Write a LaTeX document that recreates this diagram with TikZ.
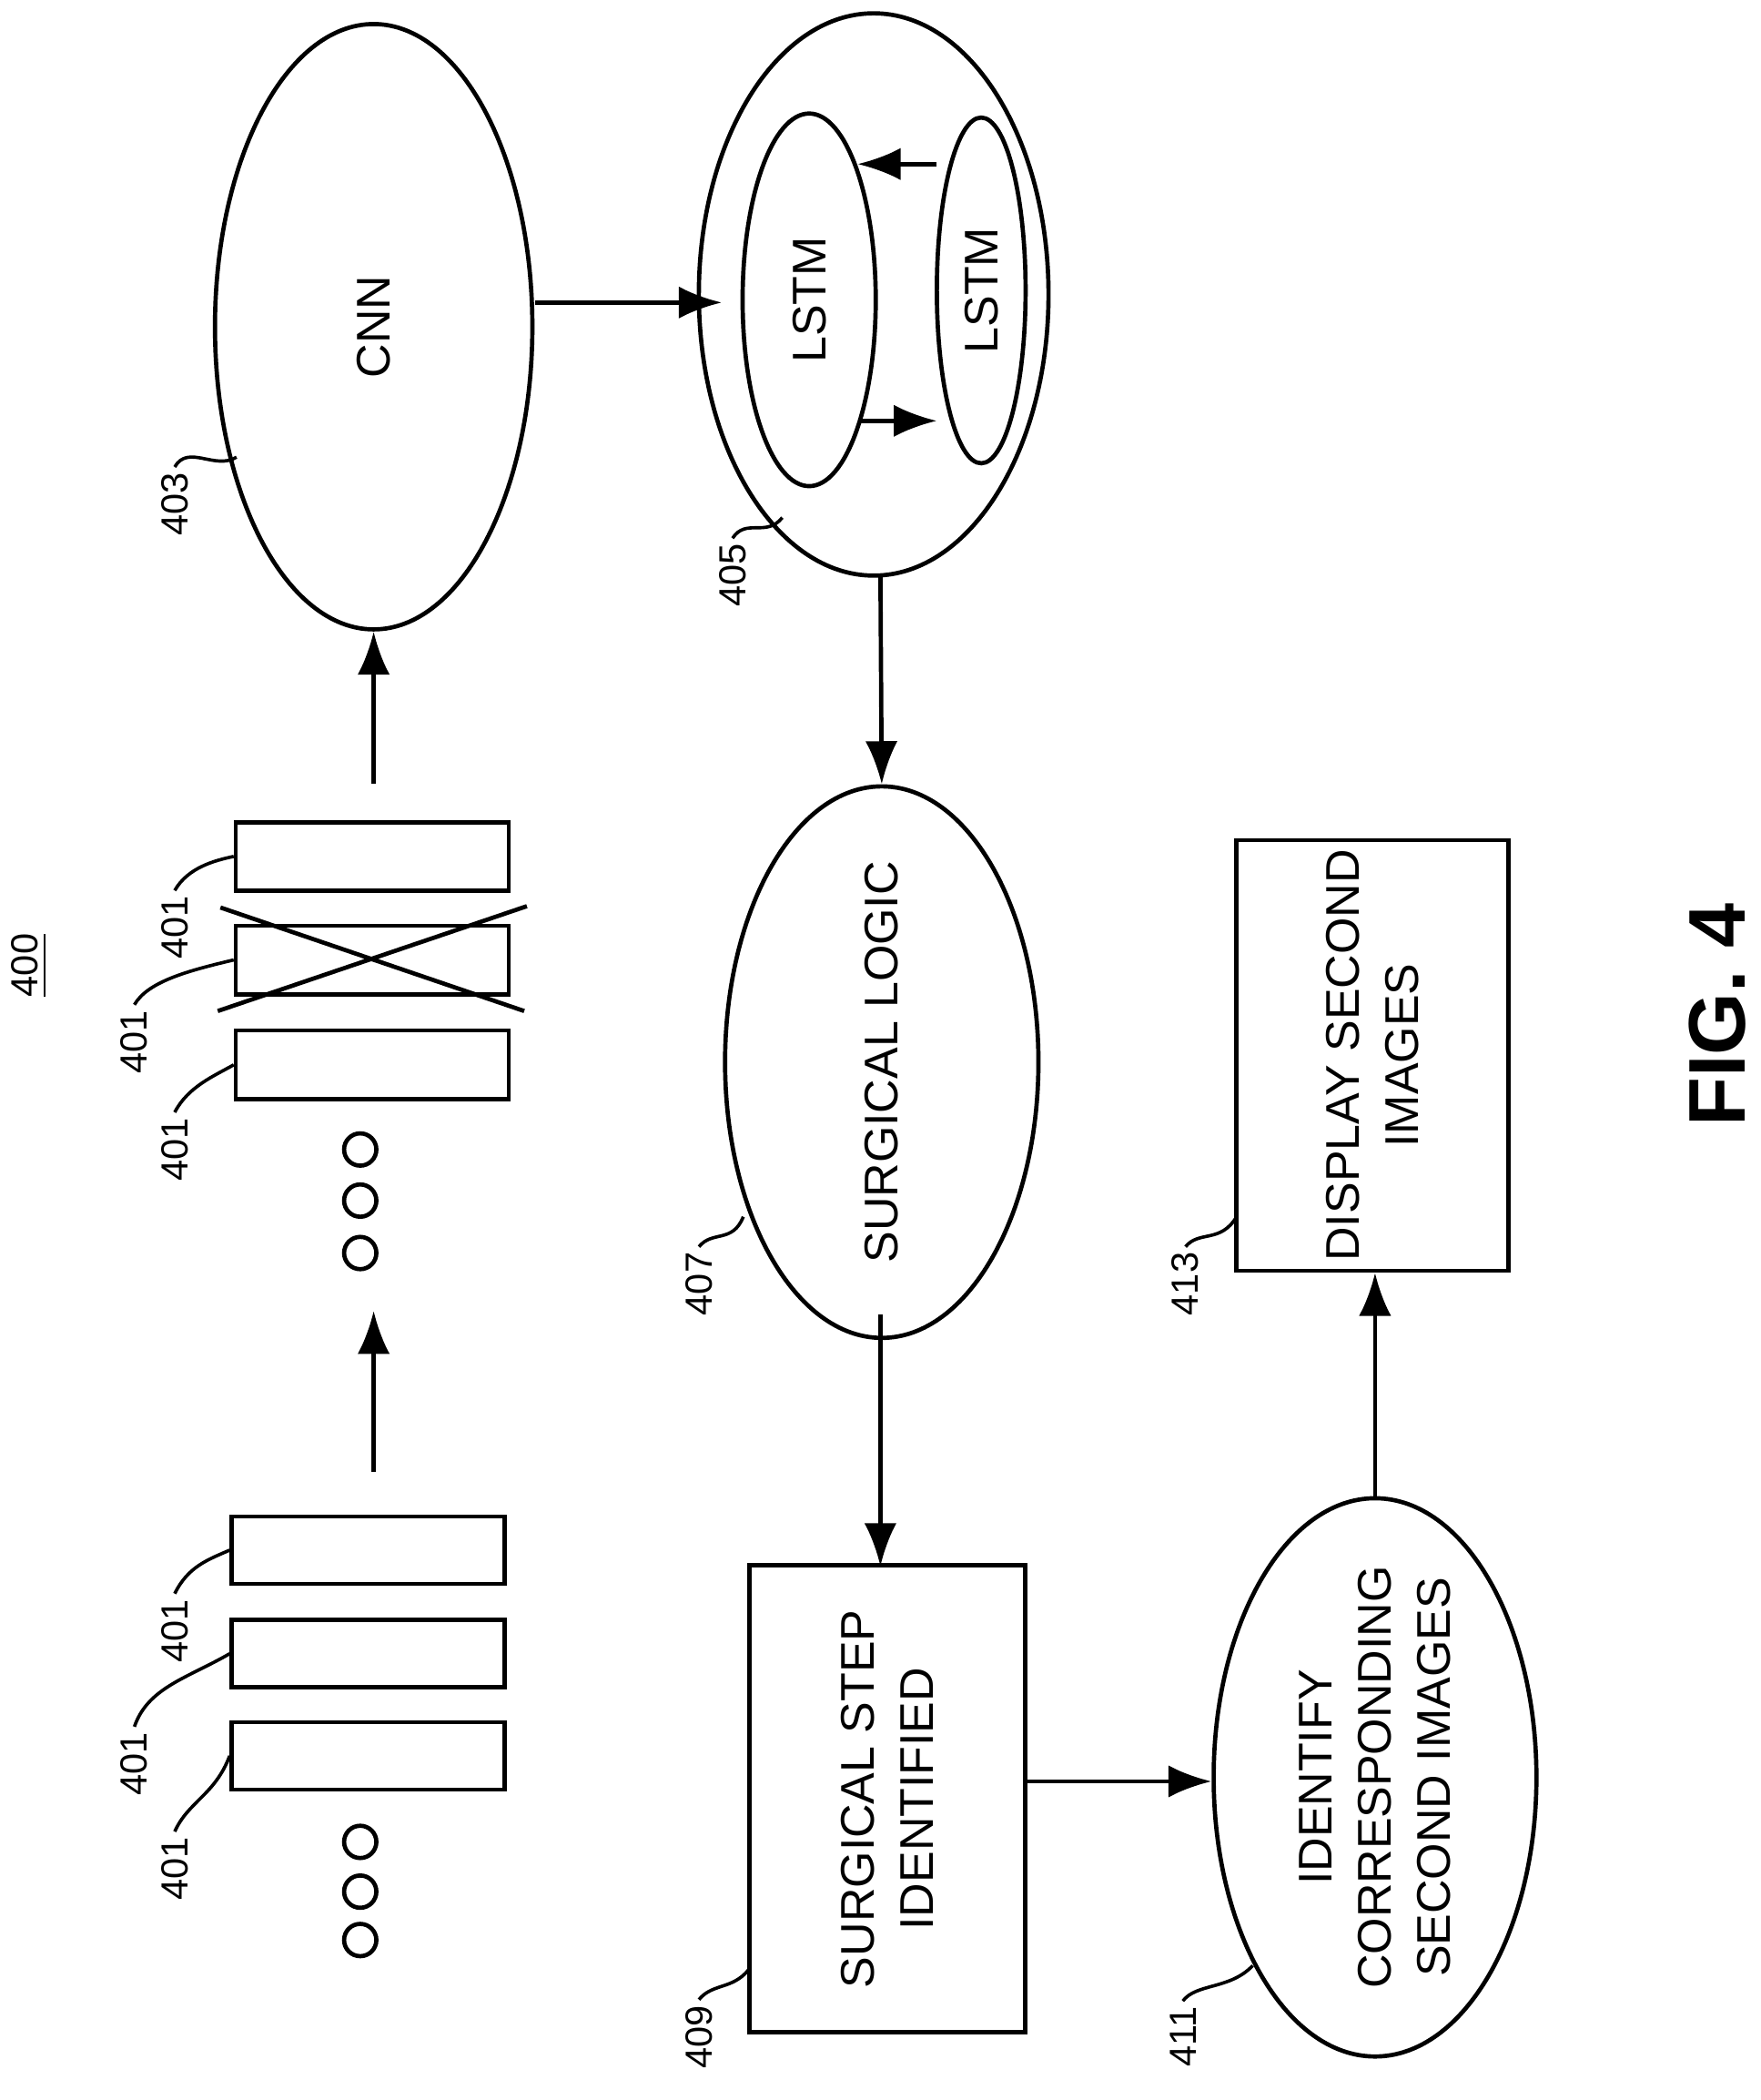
\documentclass[tikz,border=0pt]{standalone}
\usepackage{fontspec}
\setmainfont{Liberation Sans}
\usetikzlibrary{positioning,shapes,arrows.meta}
\tikzset{
    blob/.style={draw=black, line width=0.9pt, ellipse, inner sep=0pt},
    frame/.style={draw=black, line width=0.9pt, rectangle, inner sep=0pt},
    txt/.style={rotate=90, align=center, font=\fontsize{10}{12.5}\selectfont},
    refl/.style={rotate=90, font=\fontsize{8}{9}\selectfont, inner sep=1pt},
    flow/.style={draw=black, line width=0.9pt, -{Latex[length=3.2mm,width=2.4mm]}},
    lead/.style={draw=black, line width=0.7pt},
    dot/.style={draw=black, line width=0.9pt, circle, minimum size=0.24cm, inner sep=0pt},
}
\begin{document}
\begin{tikzpicture}[x=0.01cm, y=-0.01cm]
    \useasboundingbox (0,0) rectangle (1310,1562);

    % networks
    \node[blob, minimum width=2.36cm, minimum height=4.5cm] at (278,243) (cnn) {};
    \node[txt] at (cnn) {CNN};
    \node[blob, minimum width=2.6cm, minimum height=4.18cm] at (650,219) (rnn) {};
    \node[blob, minimum width=0.99cm, minimum height=2.77cm] at (602,223) (lstmA) {};
    \node[txt] at (lstmA) {LSTM};
    \node[blob, minimum width=0.66cm, minimum height=2.57cm] at (730,216) (lstmB) {};
    \node[txt] at (lstmB) {LSTM};
    \coordinate (cnnOut) at (398,225);
    \coordinate (rnnIn) at (537,225);
    \coordinate (backA) at (697,122);
    \coordinate (backB) at (638,122);
    \coordinate (fwdA) at (640,313);
    \coordinate (fwdB) at (697,313);

    % logic and steps
    \node[blob, minimum width=2.33cm, minimum height=4.1cm] at (656,790) (logic) {};
    \node[txt] at (logic) {SURGICAL LOGIC};
    \node[frame, minimum width=2.05cm, minimum height=3.47cm] at (660,1338) (step) {};
    \node[txt] at (step) {SURGICAL STEP\\IDENTIFIED};
    \node[blob, minimum width=2.4cm, minimum height=4.15cm] at (1023,1322) (match) {};
    \node[txt] at (match) {IDENTIFY\\CORRESPONDING\\SECOND IMAGES};
    \node[frame, minimum width=2.02cm, minimum height=3.2cm] at (1021,785) (show) {};
    \node[txt] at (show) {DISPLAY SECOND\\IMAGES};

    % image frames
    \foreach \y/\n in {1153/a, 1230/b, 1306/c}
        \node[frame, minimum width=2.03cm, minimum height=0.5cm] at (274,\y) (img\n) {};
    \foreach \y/\n in {637/d, 714/e, 792/f}
        \node[frame, minimum width=2.03cm, minimum height=0.51cm] at (277,\y) (img\n) {};
    \draw[line width=0.9pt] (162,752) -- (392,674) (164,675) -- (390,752);
    \foreach \y/\n in {1370/a, 1407/b, 1443/c, 855/d, 893/e, 932/f}
        \node[dot] at (268,\y) (dot\n) {};
    \coordinate (gapA) at (278,1095);
    \coordinate (gapB) at (278,975);
    \coordinate (gapC) at (278,583);

    % labels
    \node[txt, font=\bfseries\fontsize{17}{20}\selectfont] at (1278,755) (fig) {FIG. 4};
    \node[refl] at (22,718) (num) {\underline{400}};
    \node[refl] at (130,375) (l403) {403};
    \node[refl] at (545,428) (l405) {405};
    \node[refl] at (520,955) (l407) {407};
    \node[refl] at (520,1515) (l409) {409};
    \node[refl] at (880,1515) (l411) {411};
    \node[refl] at (882,955) (l413) {413};
    \node[refl] at (130,1390) (l401a) {401};
    \node[refl] at (100,1312) (l401b) {401};
    \node[refl] at (130,1213) (l401c) {401};
    \node[refl] at (130,855) (l401d) {401};
    \node[refl] at (100,775) (l401e) {401};
    \node[refl] at (130,690) (l401f) {401};

    \draw[lead] (l403.east) .. controls (140,330) and (160,350) .. (176,340);
    \draw[lead] (l405.east) .. controls (555,385) and (570,400) .. (582,385);
    \draw[lead] (l407.east) .. controls (530,915) and (545,925) .. (553,905);
    \draw[lead] (l409.east) .. controls (530,1475) and (545,1480) .. (557,1465);
    \draw[lead] (l411.east) .. controls (890,1475) and (915,1480) .. (932,1462);
    \draw[lead] (l413.east) .. controls (892,915) and (908,925) .. (920,905);
    \draw[lead] (l401a.east) .. controls (140,1340) and (160,1335) .. (imgc.west);
    \draw[lead] (l401b.east) .. controls (110,1255) and (140,1248) .. (imgb.west);
    \draw[lead] (l401c.east) .. controls (140,1165) and (155,1160) .. (imga.west);
    \draw[lead] (l401d.east) .. controls (140,808) and (160,800) .. (imgf.west);
    \draw[lead] (l401e.east) .. controls (110,730) and (140,722) .. (imge.west);
    \draw[lead] (l401f.east) .. controls (140,645) and (160,640) .. (imgd.west);

    % connectors
    \draw[flow] (gapA) -- (gapB);
    \draw[flow] (gapC) -- (cnn);
    \draw[flow] (cnnOut) -- (rnnIn);
    \draw[flow] (backA) -- (backB);
    \draw[flow] (fwdA) -- (fwdB);
    \draw[flow] (655,428) -- (logic.north);
    \draw[flow] (655,978) -- (655,1165);
    \draw[flow] (762,1325) -- (match.west |- 0,1325);
    \draw[flow] (match.north) -- (show.south -| match.north);
\end{tikzpicture}
\end{document}
